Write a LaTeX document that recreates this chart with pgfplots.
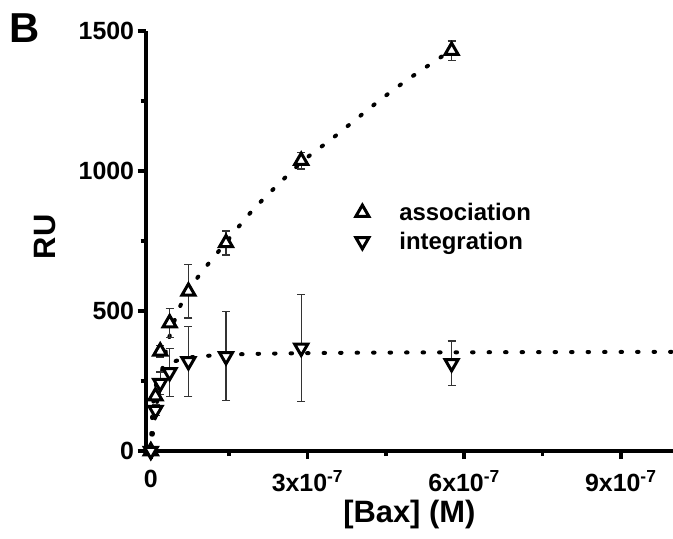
\documentclass[border=0pt]{standalone}
\usepackage{fontspec}
\setmainfont{Liberation Sans}
\usepackage{pgfplots}
\usepackage{pgfplotstable}
\pgfplotsset{compat=1.18}

% Concentrations in units of 1e-7 M
\pgfplotstableread{
x     y     e
0     0     0
0.09  196   12
0.18  356   20
0.36  457   53
0.72  570   95
1.44  743   43
2.88  1037  30
5.76  1430  34
}\association
\pgfplotstableread{
x     y     e
0     0     0
0.09  146   20
0.18  242   40
0.36  281   85
0.72  320   124
1.44  338   159
2.88  368   190
5.76  313   80
}\integration

\begin{document}
\begin{tikzpicture}
\begin{axis}[
  at={(0bp,0bp)}, anchor=south west,
  scale only axis, width=527.4bp, height=420bp,
  xmin=-0.1, xmax=10, ymin=0, ymax=1500,
  axis x line*=bottom, axis y line*=left,
  axis line style={line width=4bp, -},
  xtick={0,3,6,9},
  xticklabels={0, 3x10\textsuperscript{-7}, 6x10\textsuperscript{-7}, 9x10\textsuperscript{-7}},
  minor xtick={1.5,4.5,7.5},
  ytick={0,500,1000,1500},
  yticklabels={0,500,1000,1500},
  minor ytick={250,750,1250},
  tick align=outside,
  major tick length=8bp, minor tick length=5bp,
  every tick/.style={line width=3.5bp, black},
  tick label style={font=\fontsize{25}{28}\selectfont\bfseries},
  xticklabel style={yshift=-8bp},
  xlabel={[Bax] (M)}, ylabel={RU},
  label style={font=\fontsize{31}{34}\selectfont\bfseries},
  xlabel style={at={(axis description cs:0.5,-0.152)}, anchor=center},
  ylabel style={at={(axis description cs:-0.19,0.51)}, anchor=center, rotate=0},
  legend style={draw=none, fill=none, at={(0.386,0.60)}, anchor=north west,
    font=\fontsize{24}{28}\selectfont\bfseries, row sep=6bp},
  legend cell align=left,
  legend image code/.code={%
    \path[draw=none, fill=none] (0bp,0bp) (45bp,0bp);
    \draw[#1] plot coordinates {(10bp,0bp)};},
  error bars/error bar style={line width=1.2bp, black!80},
  error bars/error mark options={rotate=90, mark size=4bp, line width=1.2bp, black!80},
  fitline/.style={draw=black, line width=4bp, line cap=round,
    dash pattern=on 1.5bp off 15bp, smooth, no marks},
]
% fitted curves
\addplot[fitline, forget plot] coordinates {
  (0,0) (0.05,80) (0.1,150) (0.2,270) (0.33,390) (0.52,500) (0.75,580)
  (1.0,645) (1.44,745) (2.0,870) (2.88,1030) (3.5,1120) (4.4,1255)
  (5.0,1337) (5.76,1432)
};
\addplot[fitline, forget plot] coordinates {
  (0,0) (0.01,59) (0.025,119) (0.05,178) (0.1,237) (0.2,285) (0.4,316)
  (0.7,332) (1,339) (2,347) (4,351) (7,353) (10,354)
};
% measured responses
\addplot[only marks, mark=triangle*, mark size=7.5bp,
  mark options={fill=white, draw=black, line width=3bp},
  error bars/.cd, y dir=both, y explicit]
  table[x=x, y=y, y error=e] {\association};
\addlegendentry{association}
\addplot[only marks, mark=triangle*, mark size=7.5bp,
  mark options={fill=white, draw=black, line width=3bp, rotate=180},
  error bars/.cd, y dir=both, y explicit]
  table[x=x, y=y, y error=e] {\integration};
\addlegendentry{integration}
\end{axis}
\node[anchor=base west, font=\fontsize{42}{46}\selectfont\bfseries, inner sep=0pt]
  at (-136bp,408bp) {B};
\pgfresetboundingbox
\useasboundingbox (-145.6bp,-88bp) rectangle (527.4bp,451bp);
\end{tikzpicture}
\end{document}
